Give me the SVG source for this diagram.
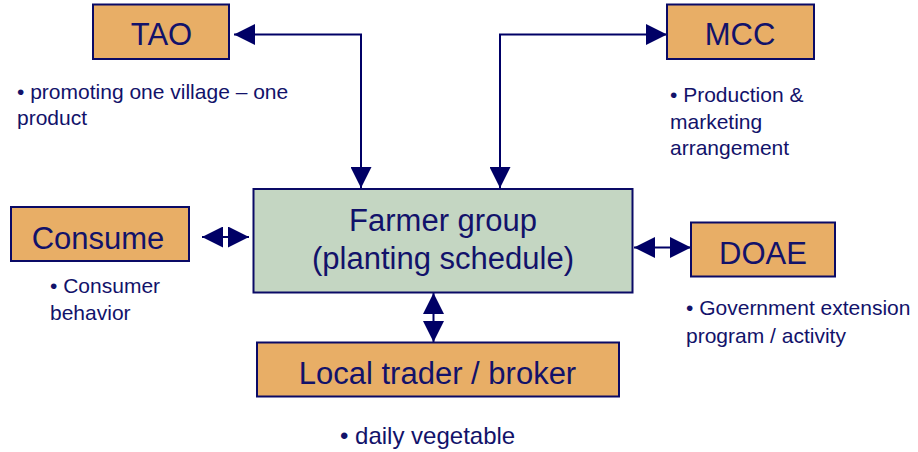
<svg xmlns="http://www.w3.org/2000/svg" width="918" height="452" viewBox="0 0 918 452">
  <defs>
    <style>
      .box { fill: #E8AE66; stroke: #0A0A66; stroke-width: 2; }
      .core { fill: #C4D6C2; stroke: #0A0A66; stroke-width: 2; }
      .label { font-family: "Liberation Sans", Arial, sans-serif; font-size: 31px; fill: #12126A; text-anchor: middle; }
      .note { font-family: "Liberation Sans", Arial, sans-serif; font-size: 21px; fill: #12126A; }
      .link { fill: none; stroke: #000066; stroke-width: 2; marker-start: url(#ah); marker-end: url(#ah); }
    </style>
    <marker id="ah" markerUnits="userSpaceOnUse" markerWidth="21" markerHeight="21" viewBox="0 0 21 21" refX="21" refY="10.5" orient="auto-start-reverse">
      <path d="M0,0 L21,10.5 L0,21 z" fill="#000066"/>
    </marker>
  </defs>

  <rect width="918" height="452" fill="#FFFFFF"/>

  <!-- connectors -->
  <g id="connectors">
    <path class="link" d="M361,188 V34.5 H234"/>
    <path class="link" d="M500,188 V34.5 H667"/>
    <path class="link" d="M202,237 H249"/>
    <path class="link" d="M634,247.5 H691"/>
    <path class="link" d="M433.5,293 V342"/>
  </g>

  <!-- central node -->
  <g id="farmer-group">
    <rect class="core" x="253.5" y="189" width="379" height="103.5"/>
    <text class="label" x="443" y="230.5">Farmer group</text>
    <text class="label" x="443" y="268.5">(planting schedule)</text>
  </g>

  <g id="tao">
    <rect class="box" x="93" y="4.5" width="136" height="54.5"/>
    <text class="label" x="161.5" y="45">TAO</text>
    <text class="note" x="17" y="98.5">• promoting one village – one</text>
    <text class="note" x="17" y="125">product</text>
  </g>

  <g id="mcc">
    <rect class="box" x="667" y="4.5" width="147" height="54.5"/>
    <text class="label" x="740" y="45">MCC</text>
    <text class="note" x="670" y="102">• Production &amp;</text>
    <text class="note" x="670" y="128.5">marketing</text>
    <text class="note" x="670" y="155">arrangement</text>
  </g>

  <g id="consume">
    <rect class="box" x="11" y="207" width="178" height="54"/>
    <text class="label" x="98" y="248.5">Consume</text>
    <text class="note" x="50" y="292.5">• Consumer</text>
    <text class="note" x="50" y="320">behavior</text>
  </g>

  <g id="doae">
    <rect class="box" x="691" y="222.5" width="144" height="54"/>
    <text class="label" x="763" y="263.5">DOAE</text>
    <text class="note" x="686" y="315">• Government extension</text>
    <text class="note" x="686" y="343">program / activity</text>
  </g>

  <g id="local-trader">
    <rect class="box" x="257" y="342.5" width="362" height="54"/>
    <text class="label" x="437.5" y="384">Local trader / broker</text>
    <text class="note" x="340" y="444" style="font-size:24px">• daily vegetable</text>
  </g>
</svg>
